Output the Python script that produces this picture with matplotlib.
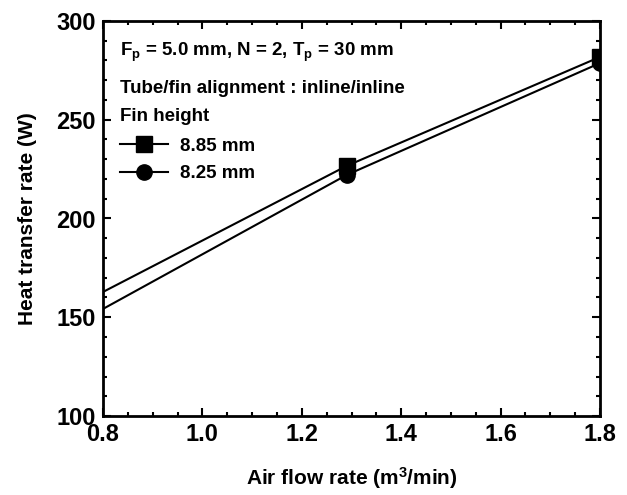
import matplotlib.pyplot as plt
from matplotlib.ticker import MultipleLocator

# air flow rate (m3/min) and heat transfer rate (W); first point lies left of the axis
flow = [0.75, 1.29, 1.80]
q_885 = [156.3, 226.6, 281.8]
q_825 = [147.3, 222.0, 278.7]

plt.rcParams['font.family'] = ['Liberation Sans', 'DejaVu Sans']
plt.rcParams['font.weight'] = 'bold'
plt.rcParams['axes.labelweight'] = 'bold'
plt.rcParams['mathtext.fontset'] = 'custom'
plt.rcParams['mathtext.rm'] = 'Liberation Sans:bold'
plt.rcParams['mathtext.it'] = 'Liberation Sans:bold'
plt.rcParams['mathtext.bf'] = 'Liberation Sans:bold'

fig = plt.figure(figsize=(6.27, 4.95), dpi=100)
ax = fig.add_axes([103 / 627, 79 / 495, 497 / 627, 395 / 495])

ax.plot(flow, q_885, color='black', lw=1.5, marker='s', ms=11, label='8.85 mm')
ax.plot(flow, q_825, color='black', lw=1.5, marker='o', ms=11, label='8.25 mm')

ax.set_xlim(0.8, 1.8)
ax.set_ylim(100, 300)
ax.xaxis.set_major_locator(MultipleLocator(0.2))
ax.xaxis.set_minor_locator(MultipleLocator(0.05))
ax.yaxis.set_major_locator(MultipleLocator(50))
ax.yaxis.set_minor_locator(MultipleLocator(10))
ax.set_xticks([0.8, 1.0, 1.2, 1.4, 1.6, 1.8])
ax.set_xticklabels(['0.8', '1.0', '1.2', '1.4', '1.6', '1.8'])
ax.tick_params(which='both', direction='in', top=True, right=True, width=1.5)
ax.tick_params(which='major', length=6, labelsize=17)
ax.tick_params(which='minor', length=3)
ax.tick_params(axis='x', pad=5)
ax.tick_params(axis='y', pad=5)
for s in ax.spines.values():
    s.set_linewidth(2)

ax.set_xlabel('Air flow rate (m$^3$/min)', fontsize=15, labelpad=14)
ax.set_ylabel('Heat transfer rate (W)', fontsize=15, labelpad=14)

ax.text(0.034, 0.921, '$\\mathregular{F_p}$ = 5.0 mm, N = 2, $\\mathregular{T_p}$ = 30 mm',
        transform=ax.transAxes, fontsize=13.5, va='center')
ax.text(0.034, 0.830, 'Tube/fin alignment : inline/inline',
        transform=ax.transAxes, fontsize=13.5, va='center')
ax.text(0.034, 0.757, 'Fin height', transform=ax.transAxes, fontsize=13.5, va='center')
ax.legend(loc='upper left', bbox_to_anchor=(0.034, 0.704), frameon=False, fontsize=13.5,
          handlelength=2.55, handletextpad=0.64, labelspacing=0.55,
          borderpad=0, borderaxespad=0)

fig.savefig('out.png', dpi=100)
